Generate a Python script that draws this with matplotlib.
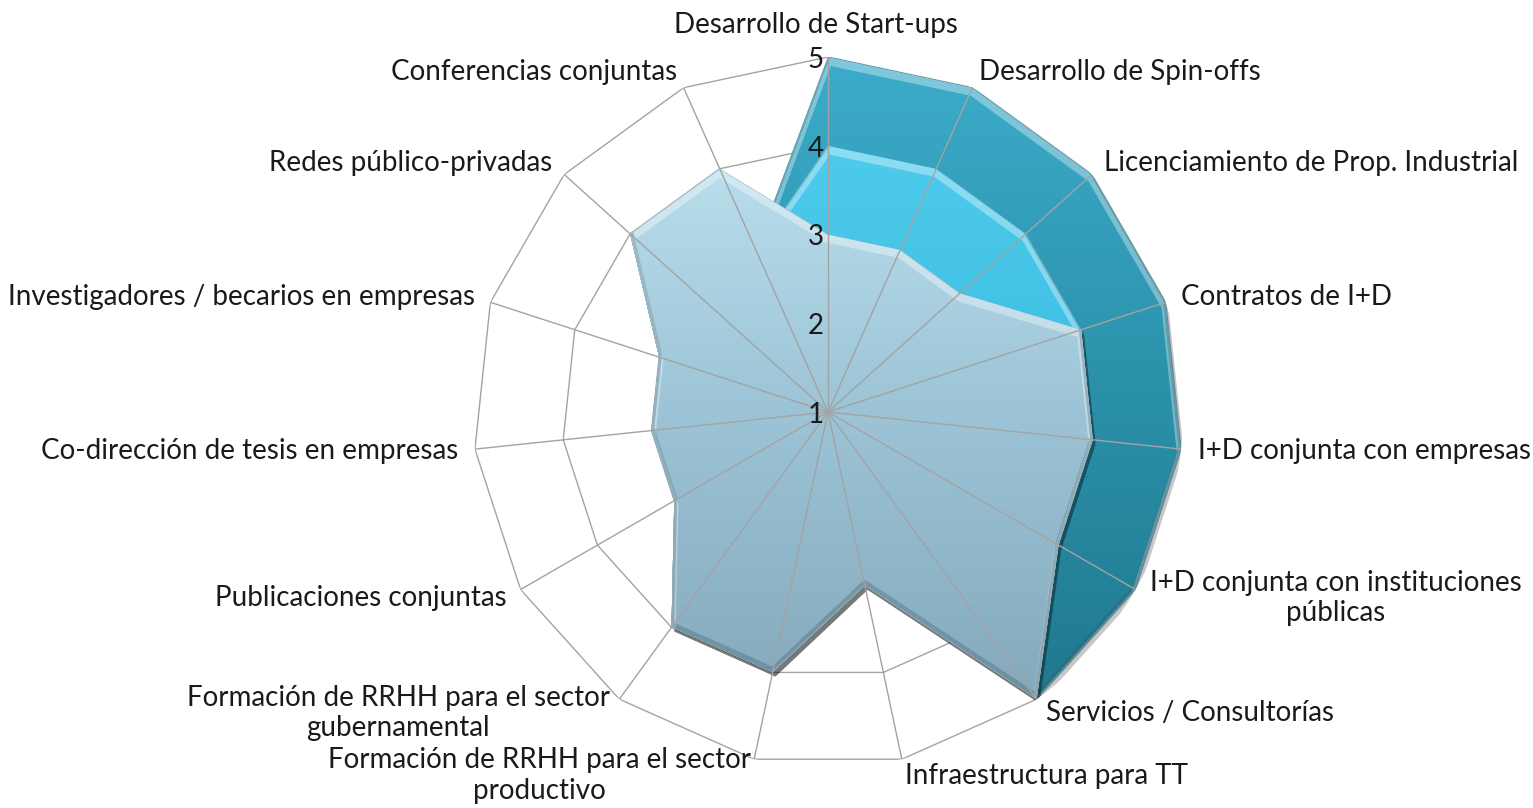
import numpy as np
import matplotlib
matplotlib.use("Agg")
import matplotlib.pyplot as plt
import matplotlib.patheffects as pe
from matplotlib.colors import LinearSegmentedColormap
from matplotlib.image import AxesImage

categorias = [
    "Desarrollo de Start-ups",
    "Desarrollo de Spin-offs",
    "Licenciamiento de Prop. Industrial",
    "Contratos de I+D",
    "I+D conjunta con empresas",
    "I+D conjunta con instituciones\npúblicas",
    "Servicios / Consultorías",
    "Infraestructura para TT",
    "Formación de RRHH para el sector\nproductivo",
    "Formación de RRHH para el sector\ngubernamental",
    "Publicaciones conjuntas",
    "Co-dirección de tesis en empresas",
    "Investigadores / becarios en empresas",
    "Redes público-privadas",
    "Conferencias conjuntas",
]

# three series, back to front
serie_alta = [5, 5, 5, 5, 5, 5, 5, 3, 4, 4, 3, 3, 3, 4, 3]
serie_media = [4, 4, 4, 4, 4, 4, 5, 3, 4, 4, 3, 3, 3, 4, 3]
serie_baja = [3, 3, 3, 4, 4, 4, 5, 3, 4, 4, 3, 3, 3, 4, 4]

escala = [1, 2, 3, 4, 5]

# gradient stops (bottom -> top) for each series
colores = {
    "alta": ["#1d7489", "#2a8fa8", "#3cacca"],
    "media": ["#2aa9cf", "#3bbde2", "#55d0ef"],
    "baja": ["#7fa3b6", "#9cc4d6", "#c6eaf6"],
}

FONT = ["Lato", "DejaVu Sans"]
FS = 20
GRID = "#a3a3a3"


def gradient_fill(ax, poly, stops, z):
    cmap = LinearSegmentedColormap.from_list("g", stops)
    grad = np.linspace(0, 1, 256).reshape(-1, 1)
    im = AxesImage(ax, cmap=cmap, origin="lower", extent=(0, 1, 0, 1),
                   interpolation="bilinear", transform=ax.transAxes, zorder=z)
    im.set_data(grad)
    ax.add_image(im)
    im.set_clip_path(poly)
    return im


def bevel(ax, theta, vals, z):
    # soft highlight along the upper edges and darker rim along the lower ones
    hi = ax.plot(theta, vals, color="white", lw=6, zorder=z, solid_joinstyle="round")[0]
    hi.set_path_effects([pe.Stroke(offset=(0, -3), linewidth=6, foreground="white", alpha=0.35)])
    lo = ax.plot(theta, vals, color="#3d5560", lw=4, zorder=z, solid_joinstyle="round")[0]
    lo.set_path_effects([pe.Stroke(offset=(0, 2), linewidth=4, foreground="#3d5560", alpha=0.3)])
    return hi, lo


fig = plt.figure(figsize=(15.33, 8.08), dpi=100)
ax = fig.add_axes([473 / 1533, 41 / 808, 710 / 1533, 710 / 808], projection="polar")
ax.set_theta_offset(np.pi / 2)
ax.set_theta_direction(-1)

n = len(categorias)
theta = np.linspace(0, 2 * np.pi, n, endpoint=False)
theta_c = np.append(theta, theta[0])

# ring gridlines (straight segments, behind the series)
for r in escala[1:]:
    ax.plot(theta_c, [r] * (n + 1), color=GRID, lw=1.0, zorder=1)

series = [("alta", serie_alta, 2), ("media", serie_media, 4), ("baja", serie_baja, 6)]
for key, vals, z in series:
    v = np.append(vals, vals[0])
    poly = ax.fill(theta_c, v, facecolor=colores[key][1], edgecolor="none", zorder=z)[0]
    poly.set_path_effects([pe.SimplePatchShadow(offset=(2, -3), shadow_rgbFace="#000000", alpha=0.22),
                           pe.Normal()])
    gradient_fill(ax, poly, colores[key], z + 0.1)
    hi, lo = bevel(ax, theta_c, v, z + 0.2)
    hi.set_clip_path(poly)
    lo.set_clip_path(poly)

# spokes drawn over the fills
for t in theta:
    ax.plot([t, t], [escala[0], escala[-1]], color=GRID, lw=1.0, zorder=8)

ax.set_ylim(escala[0], escala[-1])
ax.grid(False)
ax.set_xticks([])
ax.set_yticks([])
ax.spines["polar"].set_visible(False)
ax.patch.set_visible(False)

# radial value labels along the first spoke
for r in escala:
    ax.annotate(str(r), xy=(0, r), xytext=(-3, -2), textcoords="offset points",
                ha="right", va="center", fontsize=FS, family=FONT, color="#1a1a1a", zorder=9)

# category labels
pad = 12
for t, lab in zip(theta, categorias):
    ang = np.pi / 2 - t
    c, s = np.cos(ang), np.sin(ang)
    if abs(c) < 0.1:
        ha = "center"
    elif c > 0:
        ha = "left"
    else:
        ha = "right"
    if s > 0.99:
        ax.annotate(lab, xy=(t, escala[-1]), xytext=(-9, 14), textcoords="offset points",
                    ha="center", va="bottom", fontsize=FS, family=FONT, color="#1a1a1a",
                    annotation_clip=False)
    else:
        ax.annotate(lab, xy=(t, escala[-1]), xytext=(pad * c, pad * s), textcoords="offset points",
                    ha=ha, va="center", multialignment="center", fontsize=FS, family=FONT,
                    color="#1a1a1a", linespacing=1.2, annotation_clip=False)

fig.savefig("out.png", dpi=100)
